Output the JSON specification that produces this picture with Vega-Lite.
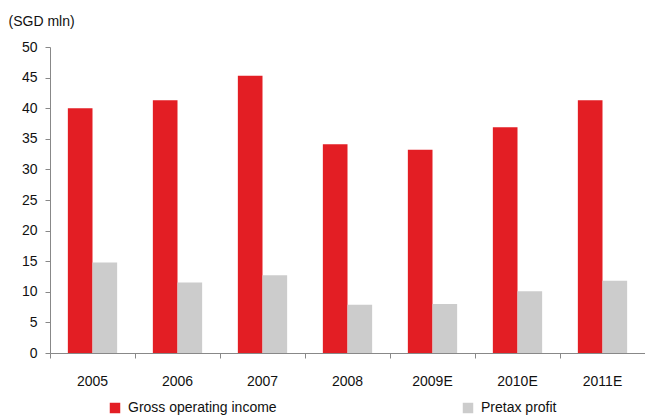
{
  "$schema": "https://vega.github.io/schema/vega-lite/v6.json",
  "width": 595,
  "height": 306,
  "autosize": {"type": "none"},
  "padding": {"left": 50, "top": 47, "right": 0, "bottom": 62},
  "background": "white",
  "config": {
    "font": "Liberation Sans Narrow, Liberation Sans, sans-serif",
    "view": {"stroke": null}
  },
  "data": {
    "values": [
      {"year": "2005", "series": "Gross operating income", "value": 40.0},
      {"year": "2005", "series": "Pretax profit", "value": 14.8},
      {"year": "2006", "series": "Gross operating income", "value": 41.3},
      {"year": "2006", "series": "Pretax profit", "value": 11.5},
      {"year": "2007", "series": "Gross operating income", "value": 45.3},
      {"year": "2007", "series": "Pretax profit", "value": 12.7},
      {"year": "2008", "series": "Gross operating income", "value": 34.1},
      {"year": "2008", "series": "Pretax profit", "value": 7.9},
      {"year": "2009E", "series": "Gross operating income", "value": 33.2},
      {"year": "2009E", "series": "Pretax profit", "value": 8.0},
      {"year": "2010E", "series": "Gross operating income", "value": 36.9},
      {"year": "2010E", "series": "Pretax profit", "value": 10.1},
      {"year": "2011E", "series": "Gross operating income", "value": 41.3},
      {"year": "2011E", "series": "Pretax profit", "value": 11.8}
    ]
  },
  "mark": {"type": "bar"},
  "encoding": {
    "x": {
      "field": "year",
      "type": "nominal",
      "sort": null,
      "scale": {"paddingInner": 0.42, "paddingOuter": 0.21},
      "axis": {
        "title": null,
        "labelAngle": 0,
        "labelFontSize": 14,
        "labelColor": "#111111",
        "labelPadding": 16,
        "bandPosition": -0.36,
        "ticks": true,
        "tickSize": 5,
        "tickColor": "#888888",
        "domainColor": "#888888",
        "grid": false
      }
    },
    "xOffset": {"field": "series", "type": "nominal"},
    "y": {
      "field": "value",
      "type": "quantitative",
      "scale": {"domain": [0, 50], "nice": false},
      "axis": {
        "title": "(SGD mln)",
        "titleAngle": 0,
        "titleAlign": "left",
        "titleBaseline": "alphabetic",
        "titleX": -42,
        "titleY": -22,
        "titleFontSize": 14,
        "titleFontWeight": "normal",
        "titleColor": "#111111",
        "values": [0, 5, 10, 15, 20, 25, 30, 35, 40, 45, 50],
        "labelFontSize": 14,
        "labelColor": "#111111",
        "labelPadding": 8,
        "tickSize": 5,
        "tickColor": "#888888",
        "domainColor": "#888888",
        "grid": false
      }
    },
    "color": {
      "field": "series",
      "type": "nominal",
      "scale": {
        "domain": ["Gross operating income", "Pretax profit"],
        "range": ["#E31E24", "#CCCCCC"]
      },
      "legend": {
        "title": null,
        "orient": "none",
        "legendX": 58,
        "legendY": 354,
        "direction": "horizontal",
        "columns": 2,
        "columnPadding": 184,
        "symbolType": "square",
        "symbolSize": 110,
        "symbolStrokeWidth": 0,
        "labelFontSize": 14,
        "labelColor": "#111111",
        "labelOffset": 6
      }
    }
  }
}
